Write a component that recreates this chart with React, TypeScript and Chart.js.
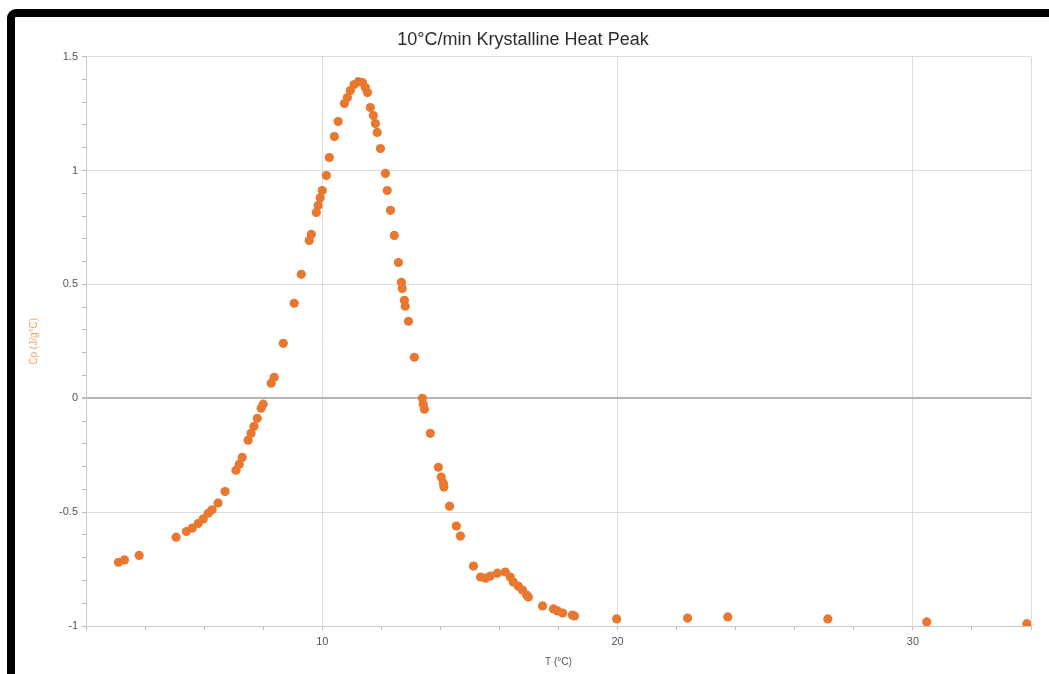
import React, { useEffect, useRef } from "react";
import { Chart, registerables } from "chart.js";

Chart.register(...registerables);

// Measured temperature (°C) and specific heat (J/g°C) readings
const temperature: number[] = [
  3.1, 3.3, 3.8,
  5.05, 5.4, 5.6, 5.8, 5.97, 6.14, 6.27, 6.47, 6.71,
  7.08, 7.19, 7.29, 7.49, 7.59, 7.69, 7.8, 7.93, 8.0, 8.27, 8.37, 8.68,
  9.05, 9.29, 9.56, 9.63, 9.8, 9.86, 9.93, 10.0, 10.14, 10.24, 10.41, 10.54,
  10.75, 10.85, 10.95, 11.08, 11.22, 11.36, 11.46, 11.53, 11.63, 11.73, 11.8,
  11.86, 11.97, 12.14, 12.2, 12.31, 12.44, 12.58, 12.68, 12.71, 12.78, 12.81,
  12.92, 13.12, 13.39, 13.42, 13.46, 13.66, 13.93, 14.03, 14.1, 14.12, 14.31,
  14.54, 14.68, 15.12, 15.36, 15.53, 15.69, 15.93, 16.2, 16.37, 16.47, 16.64,
  16.78, 16.92, 16.98, 17.46, 17.83, 17.97, 18.14, 18.47, 18.54, 19.97,
  22.37, 23.73, 27.12, 30.47, 33.86,
];

const heatCapacity: number[] = [
  -0.72, -0.71, -0.69,
  -0.61, -0.585, -0.57, -0.55, -0.53, -0.505, -0.49, -0.46, -0.41,
  -0.316, -0.29, -0.26, -0.184, -0.154, -0.123, -0.088, -0.044, -0.026, 0.066, 0.092, 0.241,
  0.417, 0.544, 0.693, 0.72, 0.816, 0.846, 0.88, 0.912, 0.978, 1.057, 1.149, 1.215,
  1.294, 1.32, 1.351, 1.377, 1.39, 1.386, 1.364, 1.342, 1.276, 1.241, 1.206,
  1.167, 1.096, 0.987, 0.912, 0.825, 0.715, 0.596, 0.509, 0.482, 0.43, 0.404,
  0.338, 0.18, 0.0, -0.026, -0.048, -0.154, -0.303, -0.346, -0.373, -0.39, -0.474,
  -0.561, -0.605, -0.737, -0.785, -0.79, -0.781, -0.768, -0.763, -0.785, -0.807, -0.825,
  -0.842, -0.864, -0.873, -0.912, -0.925, -0.934, -0.943, -0.952, -0.956, -0.969,
  -0.965, -0.96, -0.969, -0.982, -0.99,
];

const xLabelEvery = 10;
const yLabelEvery = 0.5;

const FONT = "'Liberation Sans', Arial, Helvetica, sans-serif";

const isMultiple = (v: number, step: number) =>
  Math.abs(v / step - Math.round(v / step)) < 1e-6;

export default function App() {
  const canvasRef = useRef<HTMLCanvasElement | null>(null);

  useEffect(() => {
    if (!canvasRef.current) return;
    const points = temperature.map((t, i) => ({ x: t, y: heatCapacity[i] }));

    const chart = new Chart(canvasRef.current, {
      type: "scatter",
      data: {
        datasets: [
          {
            label: "Cp",
            data: points,
            backgroundColor: "#e8782f",
            borderColor: "#e8782f",
            pointRadius: 4.6,
            pointHoverRadius: 4.6,
            borderWidth: 0,
          },
        ],
      },
      options: {
        animation: false,
        responsive: false,
        devicePixelRatio: 1,
        layout: { padding: { left: 0, right: 18, top: 0, bottom: 0 } },
        plugins: {
          legend: { display: false },
          tooltip: { enabled: false },
          title: {
            display: true,
            text: "10°C/min Krystalline Heat Peak",
            color: "#2b2b2b",
            font: { family: FONT, size: 18, weight: "normal" },
            padding: { top: 12, bottom: 6 },
          },
        },
        scales: {
          x: {
            type: "linear",
            min: 2,
            max: 34,
            afterFit: (scale: any) => {
              scale.height = 48;
            },
            ticks: {
              stepSize: 2,
              autoSkip: false,
              maxRotation: 0,
              maxTicksLimit: 100,
              padding: 5,
              color: "#555",
              font: { family: FONT, size: 11 },
              callback: (v: any) => (isMultiple(Number(v), xLabelEvery) ? String(v) : ""),
            },
            grid: {
              color: (ctx: any) =>
                ctx.tick && (isMultiple(ctx.tick.value, xLabelEvery) || ctx.tick.value === 34)
                  ? "#dcdcdc"
                  : "rgba(0,0,0,0)",
              tickColor: "#bbb",
              tickLength: 4,
            },
            border: { color: "#c8c8c8" },
            title: {
              display: true,
              text: "T (°C)",
              color: "#555",
              font: { family: FONT, size: 10 },
              padding: { top: 6, bottom: 6 },
            },
          },
          y: {
            type: "linear",
            min: -1,
            max: 1.5,
            afterFit: (scale: any) => {
              scale.width = 71;
            },
            ticks: {
              stepSize: 0.1,
              autoSkip: false,
              maxTicksLimit: 100,
              padding: 4,
              color: "#555",
              font: { family: FONT, size: 11 },
              callback: (v: any) => {
                const n = Number(v);
                if (!isMultiple(n, yLabelEvery)) return "";
                return String(Math.round(n * 10) / 10);
              },
            },
            grid: {
              color: (ctx: any) => {
                if (!ctx.tick) return "rgba(0,0,0,0)";
                const v = ctx.tick.value;
                if (Math.abs(v) < 1e-6) return "#b4b4b4";
                return isMultiple(v, yLabelEvery) ? "#dcdcdc" : "rgba(0,0,0,0)";
              },
              lineWidth: (ctx: any) => (ctx.tick && Math.abs(ctx.tick.value) < 1e-6 ? 2 : 1),
              tickColor: "#bbb",
              tickLength: 4,
            },
            border: { color: "#c8c8c8" },
            title: {
              display: true,
              text: "Cp (J/g°C)",
              color: "#f0a060",
              font: { family: FONT, size: 10 },
              padding: { top: 13, bottom: 0 },
            },
          },
        },
      },
    });

    return () => chart.destroy();
  }, []);

  return (
    <div
      style={{
        position: "fixed",
        left: 0,
        top: 0,
        width: 1049,
        height: 674,
        overflow: "hidden",
        background: "#fff",
      }}
    >
      <div
        style={{
          position: "absolute",
          left: 7,
          top: 9,
          width: 1060,
          height: 700,
          border: "8px solid #000",
          borderRadius: 9,
          background: "#fff",
        }}
      >
        <canvas
          ref={canvasRef}
          width={1034}
          height={657}
          style={{ position: "absolute", left: 0, top: 0, width: 1034, height: 657 }}
        />
      </div>
    </div>
  );
}
